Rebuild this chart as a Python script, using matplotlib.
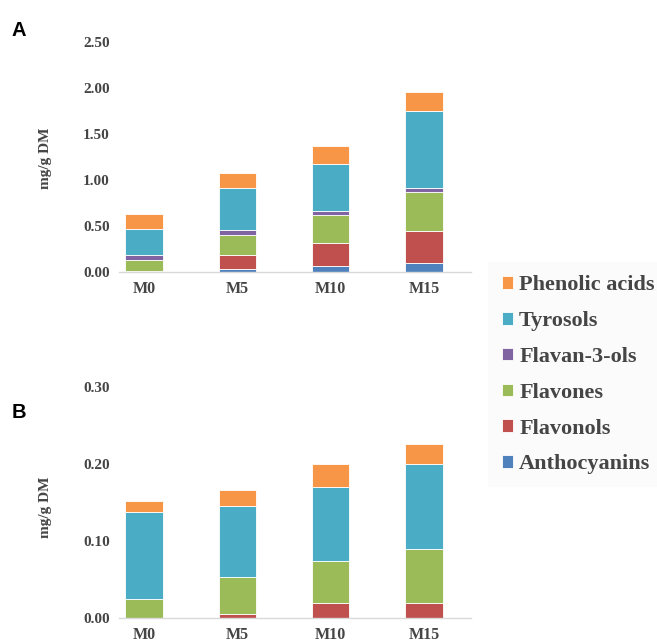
import matplotlib
matplotlib.use("Agg")
import matplotlib.pyplot as plt
from matplotlib.patches import Rectangle
import numpy as np

categories = ["M0", "M5", "M10", "M15"]
series_names = ["Anthocyanins", "Flavonols", "Flavones", "Flavan-3-ols", "Tyrosols", "Phenolic acids"]
colors = ["#4F81BD", "#C0504D", "#9BBB59", "#8064A2", "#4BACC6", "#F79646"]

# Panel A values (mg/g DM)
a_anthocyanins = [0.005, 0.033, 0.065, 0.098]
a_flavonols = [0.005, 0.146, 0.248, 0.342]
a_flavones = [0.118, 0.218, 0.309, 0.432]
a_flavan3ols = [0.050, 0.058, 0.043, 0.044]
a_tyrosols = [0.283, 0.461, 0.510, 0.836]
a_phenolic = [0.164, 0.157, 0.196, 0.208]

# Panel B values (mg/g DM)
b_anthocyanins = [0.0005, 0.0005, 0.0005, 0.001]
b_flavonols = [0.0005, 0.005, 0.019, 0.019]
b_flavones = [0.024, 0.0485, 0.0545, 0.070]
b_flavan3ols = [0.0, 0.0, 0.0, 0.0]
b_tyrosols = [0.113, 0.092, 0.096, 0.1095]
b_phenolic = [0.014, 0.020, 0.030, 0.0265]

a_ticks = [0.0, 0.5, 1.0, 1.5, 2.0, 2.5]
b_ticks = [0.0, 0.1, 0.2, 0.3]

serif = ["Liberation Serif", "DejaVu Serif"]
txt_color = "#454545"

fig = plt.figure(figsize=(6.57, 6.43), dpi=100)

# faint legend background box
fig.patches.append(Rectangle((488 / 657, 1 - 487 / 643), (657 - 488) / 657, (487 - 262) / 643,
                             transform=fig.transFigure, facecolor="#fbfbfb",
                             edgecolor="none", zorder=0))

def draw_panel(ax, data, ticks):
    x = np.arange(len(categories))
    bottom = np.zeros(len(categories))
    handles = []
    for name, vals, c in zip(series_names, data, colors):
        vals = np.asarray(vals, dtype=float)
        h = ax.bar(x, vals, width=0.40, bottom=bottom, color=c,
                   edgecolor="white", linewidth=0.6, label=name)
        handles.append(h)
        bottom += vals
    ax.set_xlim(-0.268, 3.505)
    ax.set_ylim(ticks[0], ticks[-1])
    ax.set_yticks(ticks)
    ax.set_yticklabels([f"{t:.2f}" for t in ticks])
    ax.set_xticks(x)
    ax.set_xticklabels(categories)
    for s in ["left", "right", "top"]:
        ax.spines[s].set_visible(False)
    ax.spines["bottom"].set_color("#d9d9d9")
    ax.spines["bottom"].set_linewidth(1.0)
    ax.tick_params(axis="y", length=0, pad=6.5)
    ax.tick_params(axis="x", length=0, pad=6.5)
    for lab in ax.get_yticklabels():
        lab.set_family(serif)
        lab.set_fontweight("bold")
        lab.set_fontsize(11)
        lab.set_color(txt_color)
    for lab in ax.get_xticklabels():
        lab.set_family(serif)
        lab.set_fontweight("bold")
        lab.set_fontsize(11.5)
        lab.set_color(txt_color)
    return handles

axA = fig.add_axes([0.181, 0.5775, 0.536, 0.3565])
hA = draw_panel(axA, [a_anthocyanins, a_flavonols, a_flavones, a_flavan3ols, a_tyrosols, a_phenolic], a_ticks)
axB = fig.add_axes([0.181, 0.0384, 0.536, 0.3602])
draw_panel(axB, [b_anthocyanins, b_flavonols, b_flavones, b_flavan3ols, b_tyrosols, b_phenolic], b_ticks)

fig.text(46 / 657, 1 - 158 / 643, "mg/g DM", rotation=90, ha="center", va="center",
         family=serif, fontweight="bold", fontsize=11, color=txt_color)
fig.text(46 / 657, 1 - 507 / 643, "mg/g DM", rotation=90, ha="center", va="center",
         family=serif, fontweight="bold", fontsize=11, color=txt_color)

fig.text(12 / 657, 1 - 30 / 643, "A", ha="left", va="center",
         family=["Liberation Sans", "DejaVu Sans"], fontweight="bold", fontsize=14.5, color="black")
fig.text(12 / 657, 1 - 412 / 643, "B", ha="left", va="center",
         family=["Liberation Sans", "DejaVu Sans"], fontweight="bold", fontsize=14.5, color="black")

leg = fig.legend(hA[::-1], series_names[::-1], loc="upper left",
                 bbox_to_anchor=(498 / 657, 1 - 271 / 643), frameon=False,
                 prop={"family": serif, "weight": "bold", "size": 16},
                 handlelength=0.48, handleheight=0.48, handletextpad=0.27,
                 labelspacing=0.71, borderpad=0.2, borderaxespad=0)
for t in leg.get_texts():
    t.set_color(txt_color)

fig.savefig("out.png", dpi=100)
